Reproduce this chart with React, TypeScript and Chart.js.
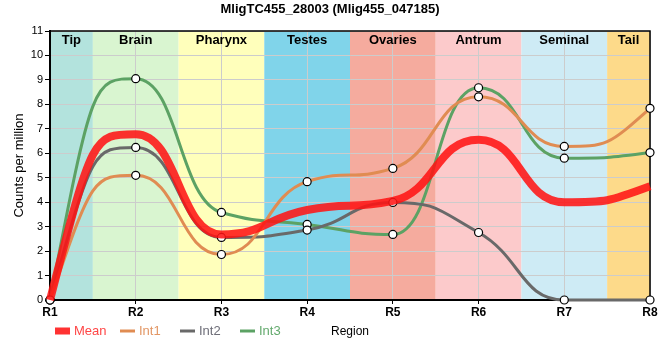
import { useEffect, useRef } from 'react';
import { Chart, registerables } from 'chart.js';

Chart.register(...registerables);

const TITLE = 'MligTC455_28003 (Mlig455_047185)';
const X_TITLE = 'Region';
const Y_TITLE = 'Counts per million';

const categories = ['R1', 'R2', 'R3', 'R4', 'R5', 'R6', 'R7', 'R8'];
const regionNames = ['Tip', 'Brain', 'Pharynx', 'Testes', 'Ovaries', 'Antrum', 'Seminal', 'Tail'];
const regionColors = ['#b3e3dd', '#d9f5d0', '#ffffbb', '#80d4ea', '#f5ab9e', '#fccacb', '#ceebf5', '#fdda8a'];

const meanValues = [0, 6.78, 2.68, 3.68, 4.05, 6.55, 4.0, 4.65];
const int1Values = [0, 5.1, 1.86, 4.84, 5.38, 8.31, 6.28, 7.84];
const int2Values = [0, 6.24, 2.56, 2.86, 3.99, 2.76, 0, 0];
const int3Values = [0, 9.05, 3.58, 3.09, 2.68, 8.68, 5.8, 6.03];

const Y_MIN = 0;
const Y_MAX = 11;
const Y_STEP = 1;

const FONT = "'Liberation Sans', Arial, sans-serif";

const seriesNames = ['Mean', 'Int1', 'Int2', 'Int3'];
const seriesColors = ['rgba(255,20,20,0.87)', 'rgb(224,140,82)', 'rgb(105,105,105)', 'rgb(92,162,100)'];
const legendTextColors = ['rgb(255,70,70)', 'rgb(226,150,100)', 'rgb(110,110,120)', 'rgb(100,170,110)'];

// Smooth monotone spline with long handles (applied to the elements Chart.js positioned)
const HANDLE = 0.5;
function applySpline(points: any[]) {
  const n = points.length;
  if (n < 2) return;
  const xs = points.map((p) => p.x);
  const ys = points.map((p) => p.y);
  const t: number[] = new Array(n).fill(0);
  const sgn = (v: number) => (v < 0 ? -1 : 1);
  for (let i = 1; i < n - 1; i++) {
    const h0 = xs[i] - xs[i - 1];
    const h1 = xs[i + 1] - xs[i];
    const s0 = (ys[i] - ys[i - 1]) / h0;
    const s1 = (ys[i + 1] - ys[i]) / h1;
    const p = (s0 * h1 + s1 * h0) / (h0 + h1);
    t[i] = (sgn(s0) + sgn(s1)) * Math.min(Math.abs(s0), Math.abs(s1), 0.5 * Math.abs(p)) || 0;
  }
  const sFirst = (ys[1] - ys[0]) / (xs[1] - xs[0]);
  const sLast = (ys[n - 1] - ys[n - 2]) / (xs[n - 1] - xs[n - 2]);
  t[0] = n > 2 ? (3 * sFirst - t[1]) / 1.5 : sFirst;
  t[n - 1] = n > 2 ? (3 * sLast - t[n - 2]) / 1.5 : sLast;
  for (let i = 0; i < n; i++) {
    const pt = points[i];
    if (i > 0) {
      const d = (xs[i] - xs[i - 1]) * HANDLE;
      pt.cp1x = xs[i] - d;
      pt.cp1y = ys[i] - d * t[i];
    }
    if (i < n - 1) {
      const d = (xs[i + 1] - xs[i]) * HANDLE;
      pt.cp2x = xs[i] + d;
      pt.cp2y = ys[i] + d * t[i];
    }
  }
}

const decorPlugin = {
  id: 'decor',
  beforeDraw(chart: any) {
    const { ctx, chartArea: a, scales } = chart;
    const x = scales.x;
    const step = x.getPixelForValue(1) - x.getPixelForValue(0);
    ctx.save();
    regionNames.forEach((_, i) => {
      const c = x.getPixelForValue(i);
      const l = Math.max(a.left, c - step / 2);
      const r = Math.min(a.right, c + step / 2);
      ctx.fillStyle = regionColors[i];
      ctx.fillRect(l, a.top, r - l, a.bottom - a.top);
    });
    ctx.restore();
  },
  beforeDatasetsDraw(chart: any) {
    const { ctx, chartArea: a, scales } = chart;
    chart.data.datasets.forEach((_: any, i: number) => {
      const meta = chart.getDatasetMeta(i);
      if (meta.dataset && meta.dataset.updateControlPoints) {
        meta.dataset.updateControlPoints(a, 'x');
      }
      applySpline(meta.data);
    });
    const x = scales.x;
    const step = x.getPixelForValue(1) - x.getPixelForValue(0);
    ctx.save();
    ctx.font = `bold 13px ${FONT}`;
    ctx.fillStyle = '#000';
    ctx.textAlign = 'center';
    ctx.textBaseline = 'middle';
    regionNames.forEach((name, i) => {
      const c = x.getPixelForValue(i);
      const l = Math.max(a.left, c - step / 2);
      const r = Math.min(a.right, c + step / 2);
      ctx.fillText(name, (l + r) / 2, a.top + 9);
    });
    ctx.strokeStyle = '#000';
    ctx.lineWidth = 1.5;
    ctx.beginPath();
    ctx.moveTo(a.left, a.top);
    ctx.lineTo(a.right, a.top);
    ctx.lineTo(a.right, a.bottom);
    ctx.stroke();
    ctx.restore();
  },
  afterDraw(chart: any) {
    const { ctx } = chart;
    ctx.save();
    ctx.font = `bold 13px ${FONT}`;
    ctx.fillStyle = '#000';
    ctx.textAlign = 'center';
    ctx.textBaseline = 'middle';
    ctx.fillText(TITLE, 330, 9);

    const starts = [55, 120, 180, 240];
    const ly = 331;
    ctx.font = `13px ${FONT}`;
    ctx.textAlign = 'left';
    chart.data.datasets.forEach((ds: any, i: number) => {
      const sx = starts[i];
      if (i === 0) {
        ctx.fillStyle = ds.borderColor;
        ctx.fillRect(sx, ly - 3.5, 15, 7);
      } else {
        ctx.strokeStyle = ds.borderColor;
        ctx.lineWidth = 3;
        ctx.beginPath();
        ctx.moveTo(sx, ly);
        ctx.lineTo(sx + 15, ly);
        ctx.stroke();
      }
      ctx.fillStyle = legendTextColors[i];
      ctx.fillText(ds.label, sx + 19, ly);
    });
    ctx.restore();
  },
};

export default function App() {
  const ref = useRef<HTMLCanvasElement | null>(null);

  useEffect(() => {
    document.body.style.margin = '0';
    const canvas = ref.current;
    if (!canvas) return;
    const values = [meanValues, int1Values, int2Values, int3Values];
    const chart = new Chart(canvas, {
      type: 'line',
      data: {
        labels: categories,
        datasets: values.map((v, i) => ({
          label: seriesNames[i],
          data: v,
          borderColor: seriesColors[i],
          backgroundColor: seriesColors[i],
          borderWidth: i === 0 ? 8 : 3,
          pointRadius: i === 0 ? 0 : 4,
          pointBackgroundColor: '#fff',
          pointBorderColor: '#000',
          pointBorderWidth: 1.2,
          cubicInterpolationMode: 'monotone' as const,
          fill: false,
          clip: false as any,
        })),
      },
      options: {
        responsive: false,
        animation: false,
        events: [],
        layout: { padding: { top: 31, right: 10, left: 0, bottom: 0 } },
        plugins: {
          legend: { display: false },
          title: { display: false },
          tooltip: { enabled: false },
        },
        scales: {
          x: {
            type: 'category',
            offset: false,
            afterFit: (s: any) => { s.height = 60; },
            grid: { color: '#cccccc', tickColor: '#000', tickLength: 4 },
            border: { color: '#000', width: 2 },
            ticks: { color: '#000', font: { family: FONT, size: 12, weight: 'bold' }, padding: 1, maxRotation: 0 },
            title: { display: true, text: X_TITLE, color: '#000', font: { family: FONT, size: 12 }, padding: { top: 0, bottom: 21 } },
          },
          y: {
            min: Y_MIN,
            max: Y_MAX,
            afterFit: (s: any) => { s.width = 50; },
            grid: { color: '#cccccc', tickColor: '#000', tickLength: 5 },
            border: { color: '#000', width: 2 },
            ticks: { stepSize: Y_STEP, color: '#000', font: { family: FONT, size: 11 }, padding: 2 },
            title: { display: true, text: Y_TITLE, color: '#000', font: { family: FONT, size: 13 }, padding: { top: 12, bottom: 0 } },
          },
        },
      },
      plugins: [decorPlugin],
    });
    return () => chart.destroy();
  }, []);

  return (
    <div style={{ position: 'fixed', left: 0, top: 0, width: 660, height: 360, background: '#fff' }}>
      <canvas ref={ref} width={660} height={360} style={{ display: 'block' }} />
    </div>
  );
}
